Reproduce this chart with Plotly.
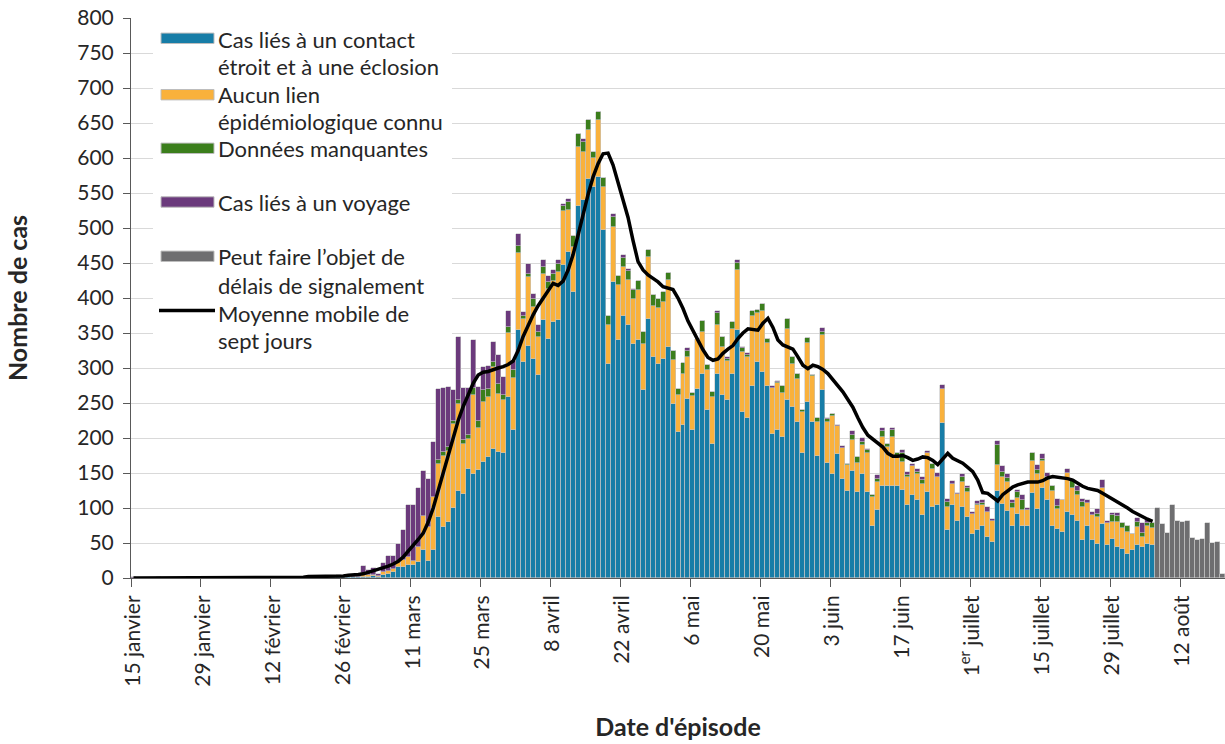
import plotly.graph_objects as go
import pandas as pd

# ---------------- data ----------------
start_date = "2020-01-15"          # first day on the axis
n_days = 205                       # 15 Jan -> 6 Aug (classified cases)
gray_start = "2020-08-07"          # reporting-delay period

contact = [
    0, 0, 0, 0, 0, 0, 0, 0, 0, 0,
    0, 0, 0, 0, 0, 0, 0, 0, 0, 0,
    0, 0, 0, 0, 0, 0, 0, 0, 0, 0,
    0, 0, 0, 0, 0, 0, 0, 0, 0, 0,
    1, 1, 1, 1, 1, 1, 2, 2, 3, 2,
    5, 6, 8, 16, 16, 18, 18, 23, 40, 25,
    40, 87, 73, 80, 100, 125, 120, 156, 148, 155,
    166, 173, 185, 180, 178, 259, 211, 355, 309, 332,
    313, 290, 368, 342, 366, 369, 447, 466, 409, 532,
    540, 570, 559, 573, 497, 306, 423, 340, 375, 362,
    335, 340, 268, 370, 316, 306, 313, 330, 249, 209,
    218, 256, 211, 270, 292, 240, 192, 292, 261, 254,
    292, 355, 237, 228, 274, 309, 294, 275, 206, 211,
    202, 255, 245, 223, 179, 251, 223, 174, 269, 164,
    149, 177, 142, 125, 153, 123, 149, 123, 75, 97,
    132, 132, 131, 131, 126, 105, 118, 112, 90, 123,
    101, 105, 221, 68, 104, 82, 101, 87, 63, 68,
    75, 59, 52, 125, 106, 96, 74, 91, 75, 74,
    122, 99, 128, 112, 75, 70, 66, 94, 90, 82,
    54, 75, 54, 49, 77, 47, 56, 44, 42, 35,
    40, 47, 44, 49, 47,
]

no_link = [
    0, 0, 0, 0, 0, 0, 0, 0, 0, 0,
    0, 0, 0, 0, 0, 0, 0, 0, 0, 0,
    0, 0, 0, 0, 0, 0, 0, 0, 0, 0,
    0, 0, 0, 0, 0, 0, 0, 0, 0, 0,
    0, 1, 0, 0, 1, 1, 5, 2, 2, 1,
    3, 4, 5, 8, 10, 12, 7, 21, 48, 48,
    76, 76, 101, 102, 120, 124, 72, 43, 113, 60,
    86, 85, 117, 83, 76, 91, 75, 110, 61, 98,
    74, 54, 67, 71, 59, 68, 78, 60, 64, 84,
    69, 70, 41, 81, 62, 55, 78, 78, 69, 64,
    64, 71, 67, 89, 72, 80, 81, 96, 63, 53,
    73, 60, 49, 72, 59, 57, 66, 70, 69, 56,
    64, 85, 86, 88, 100, 70, 88, 61, 66, 67,
    62, 101, 61, 62, 58, 85, 65, 49, 78, 59,
    83, 40, 44, 36, 44, 41, 41, 55, 41, 40,
    69, 55, 70, 42, 40, 39, 42, 37, 45, 55,
    55, 40, 49, 34, 31, 38, 36, 36, 28, 36,
    29, 35, 30, 37, 39, 41, 26, 24, 22, 23,
    45, 50, 39, 28, 50, 28, 45, 56, 38, 36,
    48, 32, 36, 38, 51, 31, 24, 36, 29, 31,
    23, 26, 14, 25, 24,
]

missing = [
    0, 0, 0, 0, 0, 0, 0, 0, 0, 0,
    0, 0, 0, 0, 0, 0, 0, 0, 0, 0,
    0, 0, 0, 0, 0, 0, 0, 0, 0, 0,
    0, 0, 0, 0, 0, 0, 0, 0, 0, 0,
    0, 0, 0, 0, 0, 0, 0, 0, 0, 0,
    0, 0, 0, 0, 0, 0, 0, 0, 0, 0,
    0, 5, 6, 5, 5, 5, 5, 5, 11, 10,
    17, 12, 7, 14, 7, 9, 11, 10, 5, 5,
    12, 7, 9, 10, 10, 12, 7, 11, 15, 19,
    14, 14, 9, 12, 13, 14, 15, 14, 13, 13,
    12, 14, 16, 9, 16, 13, 15, 10, 12, 8,
    16, 9, 4, 0, 16, 8, 8, 17, 14, 3,
    10, 10, 5, 3, 7, 4, 9, 6, 0, 2,
    10, 14, 10, 7, 3, 7, 2, 5, 5, 4,
    2, 0, 0, 2, 7, 9, 5, 5, 2, 5,
    9, 5, 10, 5, 12, 3, 0, 3, 5, 0,
    7, 0, 0, 6, 0, 0, 7, 5, 0, 2,
    3, 0, 0, 28, 7, 6, 7, 8, 14, 0,
    11, 5, 3, 5, 7, 5, 0, 0, 12, 6,
    7, 0, 0, 5, 0, 0, 10, 8, 7, 9,
    0, 7, 6, 5, 7,
]

travel = [
    1, 0, 0, 0, 0, 1, 0, 0, 0, 0,
    1, 0, 0, 1, 0, 0, 1, 0, 0, 0,
    1, 0, 0, 0, 1, 0, 0, 0, 1, 0,
    0, 1, 0, 0, 1, 0, 1, 0, 2, 1,
    2, 2, 2, 1, 1, 2, 10, 8, 9, 3,
    14, 22, 19, 25, 42, 74, 79, 84, 65, 69,
    78, 102, 92, 86, 44, 90, 75, 67, 68, 48,
    33, 33, 28, 41, 26, 22, 13, 17, 5, 14,
    7, 10, 10, 8, 5, 6, 3, 5, 0, 0,
    4, 0, 0, 0, 0, 0, 4, 0, 4, 3,
    2, 0, 0, 0, 0, 0, 0, 0, 0, 0,
    0, 4, 0, 0, 0, 0, 0, 3, 0, 3,
    0, 5, 2, 2, 0, 0, 0, 0, 3, 2,
    0, 0, 0, 0, 0, 0, 0, 0, 5, 2,
    0, 2, 3, 0, 6, 0, 5, 2, 0, 5,
    4, 0, 4, 0, 5, 4, 3, 4, 4, 4,
    0, 5, 6, 5, 3, 2, 5, 3, 3, 4,
    4, 7, 2, 6, 8, 5, 4, 3, 7, 3,
    0, 7, 7, 5, 0, 10, 0, 6, 0, 7,
    4, 5, 4, 7, 12, 4, 3, 5, 0, 0,
    0, 6, 14, 4, 0,
]

moving_avg = [
    0, 0, 0, 0, 0, 0, 0, 1, 1, 1,
    1, 1, 1, 1, 1, 1, 1, 1, 1, 1,
    1, 1, 1, 1, 1, 1, 1, 1, 1, 1,
    1, 1, 1, 1, 1, 2, 2, 2, 2, 2,
    2, 2, 3, 4, 4, 5, 6, 8, 10, 12,
    14, 17, 20, 24, 30, 38, 47, 55, 64, 80,
    100, 125, 150, 175, 202, 225, 245, 262, 278, 290,
    294, 295, 298, 300, 302, 305, 310, 325, 345, 362,
    376, 389, 400, 411, 421, 418, 424, 440, 462, 490,
    520, 548, 573, 592, 606, 607, 590, 566, 540, 515,
    482, 452, 440, 433, 428, 423, 416, 414, 412, 400,
    385, 367, 353, 338, 326, 315, 311, 313, 321, 327,
    332, 342, 350, 356, 355, 354, 364, 371, 358, 340,
    333, 330, 327, 316, 304, 299, 304, 302, 298, 292,
    283, 275, 266, 255, 244, 229, 215, 204, 198, 193,
    187, 178, 174, 174, 175, 172, 168, 170, 173, 172,
    168, 162, 170, 178, 171, 167, 164, 158, 152, 140,
    122, 121, 115, 110, 119, 125, 130, 133, 135, 137,
    137, 137, 139, 143, 145, 144, 144, 142, 140, 135,
    131, 128, 127, 125, 121, 117, 112, 108, 104, 100,
    95, 91, 87, 84, 81,
]

reporting_delay = [100, 77, 64, 104, 81, 80, 81, 57, 54, 56, 78, 50, 51, 6]

tick_dates = ["2020-01-15", "2020-01-29", "2020-02-12", "2020-02-26",
              "2020-03-11", "2020-03-25", "2020-04-08", "2020-04-22",
              "2020-05-06", "2020-05-20", "2020-06-03", "2020-06-17",
              "2020-07-01", "2020-07-15", "2020-07-29", "2020-08-12"]
tick_labels = ["15 janvier", "29 janvier", "12 février", "26 février",
               "11 mars", "25 mars", "8 avril", "22 avril",
               "6 mai", "20 mai", "3 juin", "17 juin",
               "1<sup>er</sup> juillet", "15 juillet", "29 juillet", "12 août"]

series_names = ["Cas liés à un contact étroit et à une éclosion",
                "Aucun lien épidémiologique connu",
                "Données manquantes",
                "Cas liés à un voyage",
                "Peut faire l’objet de délais de signalement",
                "Moyenne mobile de sept jours"]
legend_lines = [["Cas liés à un contact", "étroit et à une éclosion"],
                ["Aucun lien", "épidémiologique connu"],
                ["Données manquantes"],
                ["Cas liés à un voyage"],
                ["Peut faire l’objet de", "délais de signalement"],
                ["Moyenne mobile de", "sept jours"]]

# ---------------- styling ----------------
colors = ["#177DA7", "#F9B13C", "#3B7E1C", "#6B3A7C", "#6E6E70"]
FONT = "Lato"
TXT = "#262626"
DAY = 86400000

dates = pd.date_range(start_date, periods=n_days, freq="D")
gray_dates = pd.date_range(gray_start, periods=len(reporting_delay), freq="D")

fig = go.Figure()
bar_style = dict(xperiod=DAY, xperiodalignment="middle", showlegend=False,
                 marker_line_color="#C4C4C4", marker_line_width=0.6)
for vals, col, name in zip([contact, no_link, missing, travel], colors[:4], series_names[:4]):
    fig.add_trace(go.Bar(x=dates, y=vals, name=name, marker_color=col, **bar_style))
fig.add_trace(go.Bar(x=gray_dates, y=reporting_delay, name=series_names[4],
                     marker_color=colors[4], **bar_style))
fig.add_trace(go.Scatter(x=dates, y=moving_avg, name=series_names[5], mode="lines",
                         line=dict(color="black", width=3.5),
                         xperiod=DAY, xperiodalignment="middle", showlegend=False))

# plot area geometry (pixels) for the hand-drawn legend
L, R, T, B = 131, 0, 18, 166
W, H = 1225, 744
PW, PH = W - L - R, H - T - B


def px(x):
    return (x - L) / PW


def py(y):
    return (H - B - y) / PH


shapes = [dict(type="rect", xref="paper", yref="paper", layer="above",
               x0=px(153), x1=px(452), y0=py(354), y1=py(20),
               fillcolor="white", line=dict(width=0))]
swatch_y = [38.3, 94.7, 148.3, 202.0, 256.3]
for yc, col in zip(swatch_y, colors):
    shapes.append(dict(type="rect", xref="paper", yref="paper", layer="above",
                       x0=px(161), x1=px(214), y0=py(yc + 5.2), y1=py(yc - 5.2),
                       fillcolor=col, line=dict(color="#BDBDBD", width=1)))
shapes.append(dict(type="line", xref="paper", yref="paper", layer="above",
                   x0=px(159), x1=px(215), y0=py(310.5), y1=py(310.5),
                   line=dict(color="black", width=3.5)))

line_y = [[39.3, 66.7], [95.0, 121.7], [148.3], [202.7], [256.0, 285.0], [313.3, 340.7]]
annotations = []
for lines, ys in zip(legend_lines, line_y):
    for t, yc in zip(lines, ys):
        annotations.append(dict(text=t, xref="paper", yref="paper", x=px(216), y=py(yc),
                                xanchor="left", yanchor="middle", showarrow=False,
                                font=dict(family=FONT, size=22, color=TXT)))

fig.update_layout(
    width=W, height=H,
    margin=dict(l=L, r=R, t=T, b=B, pad=0, autoexpand=False),
    plot_bgcolor="white", paper_bgcolor="white",
    barmode="stack", bargap=0,
    font=dict(family=FONT, color=TXT),
    shapes=shapes, annotations=annotations,
    xaxis=dict(type="date", range=["2020-01-15", "2020-08-21"],
               tickmode="array", tickvals=tick_dates, ticktext=tick_labels,
               tickangle=-90, ticks="outside", ticklen=8, tickwidth=1, tickcolor="#595959",
               ticklabelshift=2,
               showline=True, linecolor="#595959", linewidth=1,
               showgrid=False, zeroline=False, automargin=False,
               tickfont=dict(family=FONT, size=21, color=TXT),
               title=dict(text="Date d'épisode", standoff=32,
                          font=dict(family=FONT, size=25, color=TXT, weight="bold"))),
    yaxis=dict(range=[0, 800], tick0=0, dtick=50, ticks="outside", ticklen=7,
               tickwidth=1, tickcolor="#595959", ticklabelstandoff=5,
               showline=True, linecolor="#595959", linewidth=1,
               showgrid=True, gridcolor="#D9D9D9", gridwidth=1, zeroline=False,
               automargin=False,
               tickfont=dict(family=FONT, size=21, color=TXT),
               title=dict(text="Nombre de cas", standoff=42,
                          font=dict(family=FONT, size=25, color=TXT, weight="bold"))),
)

fig.write_html("out.html", config={"displayModeBar": False},
               post_script="document.body.style.margin='0';document.body.style.overflow='hidden';")
